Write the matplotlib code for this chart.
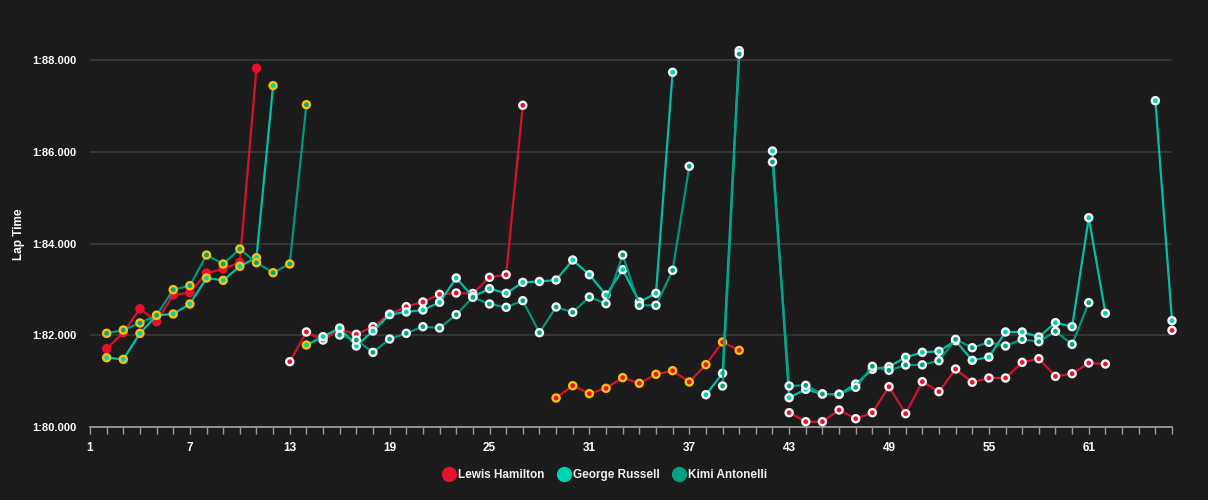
import numpy as np
import matplotlib
matplotlib.use("Agg")
import matplotlib.pyplot as plt
from matplotlib.lines import Line2D

nan = np.nan
laps = list(range(1, 67))

hamilton = [nan, 81.707, 82.056, 82.579, 82.296, 82.877, 82.928, 83.357, 83.444, 83.590,
            87.820, nan, 81.424, 82.071, 81.896, 82.130, 82.020, 82.187, 82.460, 82.623,
            82.725, 82.892, 82.921, 82.910, 83.263, 83.320, 87.013, nan, 80.632, 80.901,
            80.727, 80.843, 81.076, 80.952, 81.148, 81.228, 80.981, 81.359, 81.853, 81.671,
            nan, nan, 80.312, 80.116, 80.116, 80.371, 80.181, 80.312, 80.879, 80.290,
            80.988, 80.770, 81.264, 80.975, 81.068, 81.068, 81.409, 81.489, 81.104, 81.162,
            81.395, 81.373, nan, nan, nan, 82.107]

russell = [nan, 81.511, 81.475, 82.042, 82.434, 82.463, 82.681, 83.248, 83.197, 83.503,
           83.691, 87.441, nan, 81.787, 81.969, 82.158, 81.766, 82.093, 82.449, 82.507,
           82.550, 82.718, 83.248, 82.841, 83.016, 82.914, 83.153, 83.172, 83.204, 83.640,
           83.320, 82.877, 83.430, 82.725, 82.914, 87.732, nan, 80.704, 81.170, 88.204,
           nan, 86.016, 80.639, 80.821, 80.720, 80.710, 80.937, 81.257, 81.315, 81.519,
           81.628, 81.650, 81.880, 81.453, 81.523, 82.071, 82.071, 81.962, 82.275, 82.187,
           84.563, 82.478, nan, nan, 87.113, 82.318]

antonelli = [nan, 82.042, 82.114, 82.267, 82.434, 82.994, 83.081, 83.749, 83.553, 83.880,
             83.582, 83.364, 83.553, 87.026, nan, 82.005, 81.896, 81.627, 81.918, 82.042,
             82.187, 82.158, 82.449, 82.827, 82.681, 82.609, 82.754, 82.056, 82.616, 82.500,
             82.834, 82.688, 83.749, 82.652, 82.652, 83.415, 85.683, nan, 80.894, 88.131,
             nan, 85.777, 80.894, 80.908, 80.719, 80.715, 80.865, 81.323, 81.235, 81.351,
             81.355, 81.446, 81.911, 81.729, 81.846, 81.766, 81.911, 81.860, 82.086, 81.802,
             82.710, nan, nan, nan, nan, nan]

# tyre stints: (first lap, last lap, compound)
hamilton_stints = [(1, 11, "SOFT"), (12, 27, "HARD"), (28, 40, "MEDIUM"), (41, 66, "HARD")]
russell_stints = [(1, 14, "MEDIUM"), (15, 66, "HARD")]
antonelli_stints = [(1, 14, "MEDIUM"), (15, 66, "HARD")]

drivers = ["Lewis Hamilton", "George Russell", "Kimi Antonelli"]
driver_colors = ["#e8112d", "#00d2b4", "#00a382"]
compound_colors = {"SOFT": "#e8112d", "MEDIUM": "#f2c20f", "HARD": "#f4f4f4"}

y_ticks = [80, 82, 84, 86, 88]
x_ticks = [1, 7, 13, 19, 25, 31, 37, 43, 49, 55, 61]

BG = "#1b1b1b"
plt.rcParams["font.family"] = ["Liberation Sans", "DejaVu Sans"]

fig = plt.figure(figsize=(12.08, 5.0), dpi=100, facecolor=BG)
ax = fig.add_axes([90 / 1208, 73 / 500, (1172 - 90) / 1208, 0.7707])
ax.set_facecolor(BG)


def edge_list(stints):
    cols = []
    for lap in laps:
        c = "#f4f4f4"
        for a, b, comp in stints:
            if a <= lap <= b:
                c = compound_colors[comp]
        cols.append(c)
    return cols


series = [hamilton, russell, antonelli]
stints_all = [hamilton_stints, russell_stints, antonelli_stints]
for i, (vals, stints, col) in enumerate(zip(series, stints_all, driver_colors)):
    v = np.array(vals, dtype=float)
    ax.plot(laps, v, color=col, lw=1.6, alpha=0.9, zorder=3 + i * 2,
            solid_capstyle="round", clip_on=False)
    mask = ~np.isnan(v)
    edges = np.array(edge_list(stints), dtype=object)
    ax.scatter(np.array(laps)[mask], v[mask], s=26, facecolor=col,
               edgecolors=list(edges[mask]), linewidths=1.7, zorder=4 + i * 2,
               clip_on=False)

ax.set_xlim(1, 66)
ax.set_ylim(80, 88.4)
ax.set_yticks(y_ticks)
ax.set_yticklabels(["1:%02d.000" % t for t in y_ticks])
ax.set_xticks(laps)
ax.set_xticklabels([str(l) if l in x_ticks else "" for l in laps])
ax.grid(axis="y", color="#3a3a3a", lw=1.2)
ax.set_axisbelow(True)
for s in ["top", "right", "left"]:
    ax.spines[s].set_visible(False)
ax.spines["bottom"].set_color("#9a9a9a")
ax.spines["bottom"].set_linewidth(1.3)
ax.tick_params(axis="y", length=0, pad=10, labelsize=8, labelcolor="white")
ax.tick_params(axis="x", length=5, width=1, color="#9a9a9a", pad=6, labelsize=8.5, labelcolor="white")
for lab in ax.get_yticklabels() + ax.get_xticklabels():
    lab.set_fontweight("bold")
ax.set_ylabel("Lap Time", color="white", fontsize=8.5, fontweight="bold", labelpad=5)

handles = [Line2D([0], [0], marker="o", ls="none", markersize=10, markerfacecolor=c,
                  markeredgecolor=c) for c in driver_colors]
leg = fig.legend(handles, drivers, loc="center", bbox_to_anchor=(0.5, 0.05), ncol=3,
                 frameon=False, handletextpad=0.1, columnspacing=1.0, handlelength=1.3,
                 prop={"size": 8.5, "weight": "bold"})
for t in leg.get_texts():
    t.set_color("#f0f0f0")

fig.savefig("out.png", dpi=100, facecolor=BG)
